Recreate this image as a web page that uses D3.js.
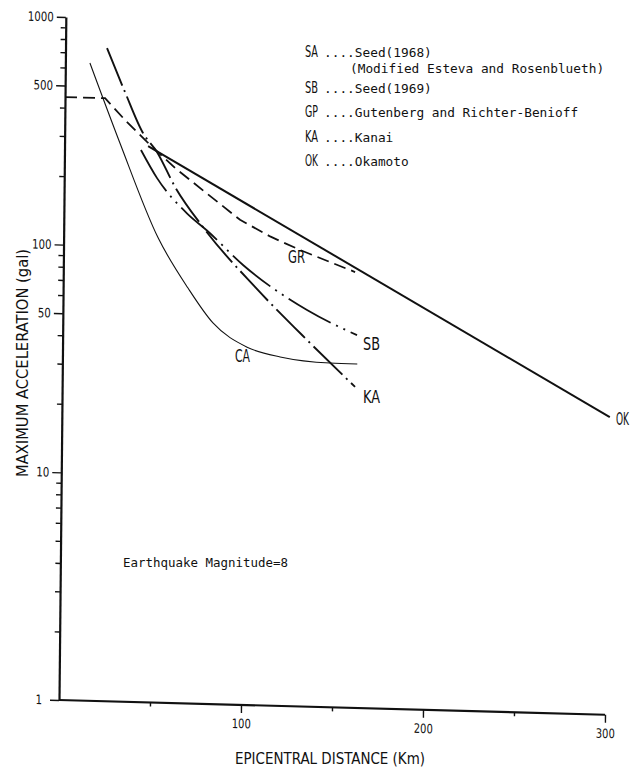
<!DOCTYPE html>
<html>
<head>
<meta charset="utf-8">
<script src="https://cdn.jsdelivr.net/npm/d3@7"></script>
<style>
  body { margin: 0; background: #fff; }
  svg { display: block; }
  .narrow { font-family: "Liberation Sans Narrow", "DejaVu Sans Condensed", "Liberation Sans", sans-serif; fill: #111; }
  .mono { font-family: "DejaVu Sans Mono", "Liberation Mono", monospace; fill: #111; }
</style>
</head>
<body>
<svg id="chart" width="632" height="773"></svg>
<script>
// Peak ground acceleration vs. epicentral distance, magnitude 8 event

// Seed (1968), label "CA"
const distSA = [13.5, 30.4, 51.9, 68.6, 82.5, 101.4, 119.6, 147, 162];
const accSA  = [632, 284, 110, 66.7, 47.2, 37.3, 34.1, 32.5, 32.4];

// Seed (1969)
const distSB = [42, 51, 67.6, 78.7, 98.7, 134.1, 161.7];
const accSB  = [266, 201, 142, 120, 85.5, 55.2, 43.4];

// Gutenberg and Richter-Benioff
const distGR = [0, 22, 33.6, 45.3, 60.8, 77.4, 96.8, 113.4, 130, 146.5, 160.3];
const accGR  = [445, 445, 355, 289, 224, 177, 135, 115, 101, 90.2, 82.1];

// Kanai
const distKA = [22.8, 32.9, 43, 50.8, 60.9, 76.5, 105.4, 131.5, 160.9];
const accKA  = [738, 476, 316, 262, 185, 124, 68.7, 42.8, 25.7];

// Okamoto
const distOK = [45.9, 301];
const accOK  = [277, 20.3];

// Axis ticks
const yTickValues = [1,2,3,4,5,6,7,8,9,10,20,30,40,50,60,70,80,90,100,200,300,400,500,600,700,800,900,1000];
const yTickLabels = [1, 10, 50, 100, 500, 1000];
const xTickValues = [50, 100, 150, 200, 250, 300];
const xTickLabels = [100, 200, 300];

// Legend entries
const legendKeys  = ["SA", "SB", "GP", "KA", "OK"];
const legendTexts = ["....Seed(1968)", "....Seed(1969)", "....Gutenberg and Richter-Benioff", "....Kanai", "....Okamoto"];

const svg = d3.select("#chart");

const x = d3.scaleLinear().domain([0, 300]).range([59, 605]);
const y = d3.scaleLog().domain([1, 1000]).range([700, 17]);

// slight shear of the plotting frame
const plot = svg.append("g")
  .attr("transform", "translate(59,700) matrix(1,0.027,-0.010,1,0,0) translate(-59,-700)");

// Y axis
const yAxis = d3.axisLeft(y)
  .tickValues(yTickValues)
  .tickFormat(d => yTickLabels.includes(d) ? String(d) : "")
  .tickSizeOuter(0);
const gy = plot.append("g").attr("transform", "translate(59,0)").call(yAxis);
gy.select(".domain").attr("stroke", "#111").attr("stroke-width", 2.2);
gy.selectAll(".tick line")
  .attr("stroke", "#111").attr("stroke-width", 1.4)
  .attr("x2", d => yTickLabels.includes(d) ? -9 : -5);
gy.selectAll(".tick text")
  .attr("class", "narrow")
  .attr("x", d => d === 1 ? -17 : -12)
  .attr("font-size", 13)
  .attr("textLength", d => String(d).length * 6.5)
  .attr("lengthAdjust", "spacingAndGlyphs");

// X axis
const xAxis = d3.axisBottom(x)
  .tickValues(xTickValues)
  .tickFormat(d => xTickLabels.includes(d) ? String(d) : "")
  .tickSizeOuter(0);
const gx = plot.append("g").attr("transform", "translate(0,700)").call(xAxis);
gx.select(".domain").attr("stroke", "#111").attr("stroke-width", 2.2)
  .attr("d", `M${x(0)},0H${x(300)}`);
gx.selectAll(".tick line")
  .attr("stroke", "#111").attr("stroke-width", 1.4)
  .attr("y2", d => xTickLabels.includes(d) ? 8 : 4);
gx.selectAll(".tick text")
  .attr("class", "narrow")
  .attr("y", 14)
  .attr("font-size", 13)
  .attr("textLength", 19)
  .attr("lengthAdjust", "spacingAndGlyphs");

// Curves
const smooth = d3.line().x(d => x(d[0])).y(d => y(d[1])).curve(d3.curveMonotoneX);
const straight = d3.line().x(d => x(d[0])).y(d => y(d[1]));
const pts = (xs, ys) => xs.map((v, i) => [v, ys[i]]);

const curves = [
  { data: pts(distSA, accSA), gen: smooth,   width: 1.1, dash: null },
  { data: pts(distSB, accSB), gen: smooth,   width: 1.8, dash: "48,6,2,6,2,6" },
  { data: pts(distGR, accGR), gen: straight, width: 1.8, dash: "12,6" },
  { data: pts(distKA, accKA), gen: smooth,   width: 1.9, dash: "40,5,2,5" },
  { data: pts(distOK, accOK), gen: straight, width: 2.0, dash: null }
];

plot.append("g").selectAll("path")
  .data(curves)
  .join("path")
  .attr("d", c => c.gen(c.data))
  .attr("fill", "none")
  .attr("stroke", "#111")
  .attr("stroke-width", c => c.width)
  .attr("stroke-dasharray", c => c.dash);

// Curve labels, squeezed horizontally to a condensed look
const curveLabels = [
  { t: "GR", x: 288, y: 263, w: 17 },
  { t: "SB", x: 363, y: 350, w: 17 },
  { t: "KA", x: 363, y: 403, w: 17 },
  { t: "CA", x: 235, y: 362, w: 15 },
  { t: "OK", x: 616, y: 425, w: 13 }
];
svg.append("g").selectAll("text")
  .data(curveLabels)
  .join("text")
  .attr("class", "narrow")
  .attr("font-size", 18)
  .attr("fill", d => d.t === "CA" ? "#555" : "#111")
  .text(d => d.t)
  .each(function (d) {
    const natural = this.getComputedTextLength() || d.w;
    d3.select(this).attr("transform", `translate(${d.x},${d.y}) scale(${d.w / natural},1)`);
  });

// Legend
const legendY = [57, 93, 117, 142, 166];
const leg = svg.append("g");
legendKeys.forEach((k, i) => {
  leg.append("text").attr("class", "narrow")
    .attr("x", 305).attr("y", legendY[i])
    .attr("font-size", 16)
    .attr("textLength", 13).attr("lengthAdjust", "spacingAndGlyphs")
    .text(k);
  leg.append("text").attr("class", "mono")
    .attr("x", 324).attr("y", legendY[i])
    .attr("font-size", 12.5)
    .attr("textLength", legendTexts[i].length * 7.7).attr("lengthAdjust", "spacingAndGlyphs")
    .text(legendTexts[i]);
});
leg.append("text").attr("class", "mono")
  .attr("x", 350).attr("y", 73)
  .attr("font-size", 12)
  .attr("textLength", 33 * 7.7).attr("lengthAdjust", "spacingAndGlyphs")
  .text("(Modified Esteva and Rosenblueth)");

// Magnitude note
svg.append("text").attr("class", "mono")
  .attr("x", 123).attr("y", 567)
  .attr("font-size", 12.5)
  .attr("textLength", 165).attr("lengthAdjust", "spacingAndGlyphs")
  .text("Earthquake Magnitude=8");

// Axis titles
svg.append("text").attr("class", "narrow")
  .attr("transform", "translate(28,363) rotate(-90)")
  .attr("text-anchor", "middle")
  .attr("font-size", 16)
  .attr("textLength", 228).attr("lengthAdjust", "spacingAndGlyphs")
  .text("MAXIMUM ACCELERATION (gal)");

svg.append("text").attr("class", "narrow")
  .attr("x", 330).attr("y", 764)
  .attr("text-anchor", "middle")
  .attr("font-size", 15)
  .attr("textLength", 190).attr("lengthAdjust", "spacingAndGlyphs")
  .text("EPICENTRAL DISTANCE (Km)");
</script>
</body>
</html>
